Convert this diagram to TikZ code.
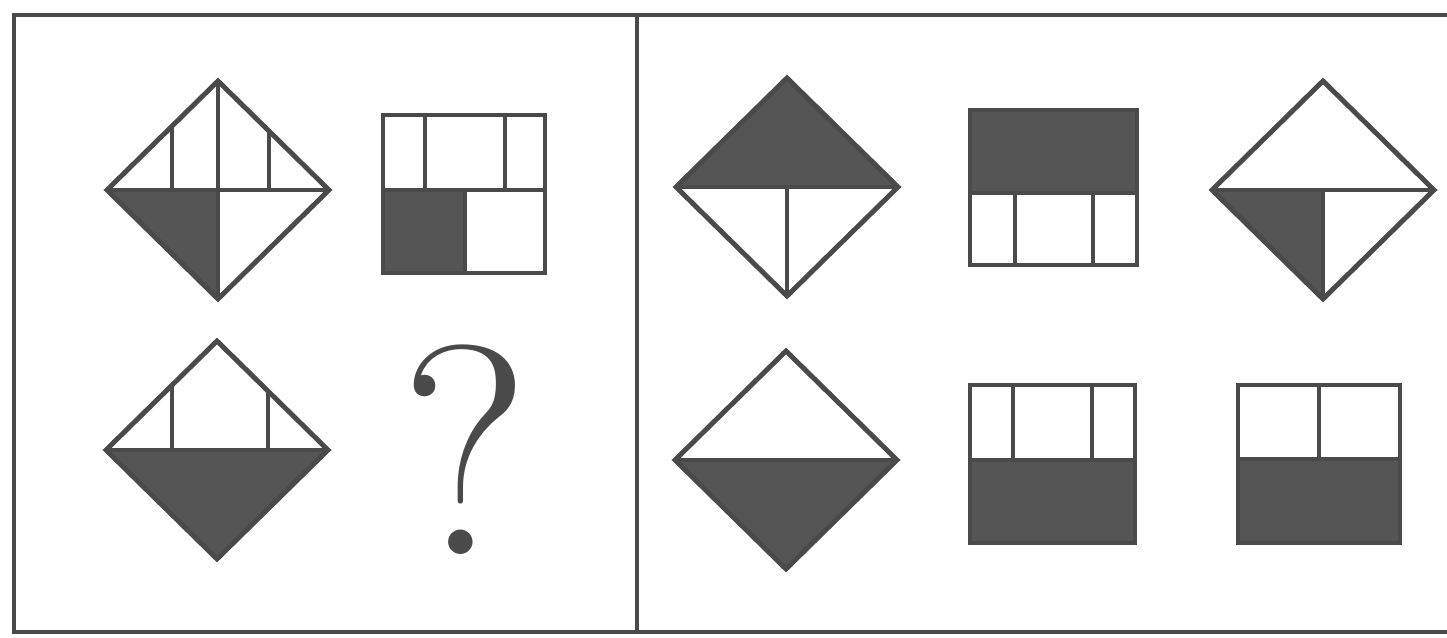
\documentclass[tikz,border=0pt]{standalone}
\usepackage{tikz}

\definecolor{ink}{HTML}{4A4A4A}
\definecolor{darkfill}{HTML}{555555}

\tikzset{
  frame/.style={draw=ink, line width=2.8pt},
  edge/.style={draw=ink, line width=2.8pt},
  solid fill/.style={fill=darkfill},
}

\begin{document}
\begin{tikzpicture}[x=0.02cm, y=-0.02cm]
\useasboundingbox (0,0) rectangle (1447,638);

% outer frame and divider
\draw[frame] (1447,15) -- (14,15) -- (14,632) -- (1447,632);
\draw[frame] (637,15) -- (637,632);

% left panel, top row
\begin{scope}[shift={(218,190)}]
\fill[solid fill] (-111,0) -- (0,0) -- (0,109) -- cycle;
\draw[edge] (-111,0) -- (0,-109) -- (111,0) -- (0,109) -- cycle;
\draw[edge] (-111,0) -- (111,0) (0,-109) -- (0,109);
\draw[edge] (-46,-64) -- (-46,0) (51,-59) -- (51,0);
\end{scope}

\fill[solid fill] (383,190) rectangle (465,273);
\draw[edge] (383,115) rectangle (545,273);
\draw[edge] (383,190) -- (545,190);
\draw[edge] (425,115) -- (425,190) (505,115) -- (505,190);
\draw[edge] (465,190) -- (465,273);

% left panel, bottom row
\begin{scope}[shift={(217,450)}]
\fill[solid fill] (-111,0) -- (111,0) -- (0,109) -- cycle;
\draw[edge] (-111,0) -- (0,-109) -- (111,0) -- (0,109) -- cycle;
\draw[edge] (-111,0) -- (111,0);
\draw[edge] (-45,-64) -- (-45,0) (51,-59) -- (51,0);
\end{scope}

\node[text=ink, inner sep=0pt] (ask) at (465,450) {\fontsize{170}{170}\selectfont ?};

% right panel, top row
\begin{scope}[shift={(787,187)}]
\fill[solid fill] (-111,0) -- (0,-109) -- (111,0) -- cycle;
\draw[edge] (-111,0) -- (0,-109) -- (111,0) -- (0,109) -- cycle;
\draw[edge] (-111,0) -- (111,0) (0,0) -- (0,109);
\end{scope}

\fill[solid fill] (970,110) rectangle (1137,193);
\draw[edge] (970,110) rectangle (1137,265);
\draw[edge] (970,193) -- (1137,193);
\draw[edge] (1015,193) -- (1015,265) (1093,193) -- (1093,265);

\begin{scope}[shift={(1323,190)}]
\fill[solid fill] (-111,0) -- (0,0) -- (0,109) -- cycle;
\draw[edge] (-111,0) -- (0,-109) -- (111,0) -- (0,109) -- cycle;
\draw[edge] (-111,0) -- (111,0) (0,0) -- (0,109);
\end{scope}

% right panel, bottom row
\begin{scope}[shift={(786,460)}]
\fill[solid fill] (-111,0) -- (111,0) -- (0,109) -- cycle;
\draw[edge] (-111,0) -- (0,-109) -- (111,0) -- (0,109) -- cycle;
\draw[edge] (-111,0) -- (111,0);
\end{scope}

\fill[solid fill] (970,460) rectangle (1135,543);
\draw[edge] (970,385) rectangle (1135,543);
\draw[edge] (970,460) -- (1135,460);
\draw[edge] (1013,385) -- (1013,460) (1092,385) -- (1092,460);

\fill[solid fill] (1238,459) rectangle (1400,543);
\draw[edge] (1238,385) rectangle (1400,543);
\draw[edge] (1238,459) -- (1400,459);
\draw[edge] (1319,385) -- (1319,459);
\end{tikzpicture}
\end{document}
